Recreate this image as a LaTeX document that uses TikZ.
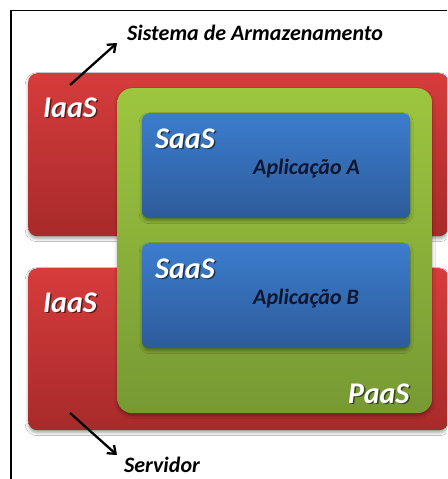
\documentclass[tikz,border=0pt]{standalone}
\usepackage{fontspec}
\setmainfont{Carlito}
\usetikzlibrary{arrows.meta,shadows.blur}

\definecolor{iaasTop}{HTML}{D63C3C}
\definecolor{iaasBot}{HTML}{A82A2A}
\definecolor{paasTop}{HTML}{9DC63F}
\definecolor{paasBot}{HTML}{779934}
\definecolor{saasTop}{HTML}{3C7DCD}
\definecolor{saasBot}{HTML}{2D5B9B}
\definecolor{appText}{HTML}{0E1630}

\tikzset{
  layerbox/.style={anchor=north west, inner sep=0pt, draw=none,
    blur shadow={shadow xshift=0pt, shadow yshift=-2.5pt,
                 shadow blur radius=3pt, shadow opacity=35}},
  iaasbox/.style={layerbox, rounded corners=9pt,
    top color=iaasTop, bottom color=iaasBot},
  paasbox/.style={layerbox, rounded corners=15pt,
    top color=paasTop, bottom color=paasBot},
  saasbox/.style={layerbox, rounded corners=7pt,
    top color=saasTop, bottom color=saasBot},
  tag/.style={anchor=base west, inner sep=0pt, text=white,
    font=\bfseries\itshape\fontsize{30}{30}\selectfont},
  tagshade/.style={tag, text=black, opacity=0.55, xshift=1.5pt, yshift=-1.5pt},
  apptext/.style={anchor=base west, inner sep=0pt, text=appText,
    font=\bfseries\itshape\fontsize{22}{22}\selectfont},
  caption/.style={anchor=base west, inner sep=0pt, text=black,
    font=\bfseries\itshape\fontsize{22}{22}\selectfont},
  pointer/.style={line width=2.3pt, -{Straight Barb[length=7pt, width=11pt]}},
}

% white label with a soft dark drop shadow
\newcommand\layertag[3]{%
  \node[tagshade] at (#2) {#3};
  \node[tag] (#1) at (#2) {#3};}

\begin{document}
\begin{tikzpicture}[x=1pt, y=-1pt]
  \clip (0,0) rectangle (447,479);
  \fill[white] (0,0) rectangle (447,479);

  % outer frame
  \draw[line width=1.5pt] (11,490) -- (11,10.5) -- (460,10.5);

  % infrastructure layers
  \node[iaasbox, minimum width=420pt, minimum height=163pt] (iaasA) at (28,73) {};
  \node[iaasbox, minimum width=420pt, minimum height=162pt] (iaasB) at (28,268) {};

  % platform layer
  \node[paasbox, minimum width=315pt, minimum height=325pt] (paas) at (117,88) {};

  % software layers
  \node[saasbox, minimum width=268pt, minimum height=105pt] (saasA) at (142,113) {};
  \node[saasbox, minimum width=268pt, minimum height=105pt] (saasB) at (142,243) {};

  % layer names
  \layertag{lblIaasA}{43,117}{IaaS}
  \layertag{lblIaasB}{43,312}{IaaS}
  \layertag{lblSaasA}{155,148}{SaaS}
  \layertag{lblSaasB}{155,278}{SaaS}
  \layertag{lblPaas}{348,403}{PaaS}

  % applications
  \node[apptext] (appA) at (253,174) {Aplicação A};
  \node[apptext] (appB) at (253,304) {Aplicação B};

  % captions with pointers
  \node[caption] (storage) at (127,40) {Sistema de Armazenamento};
  \node[caption] (server) at (124,472) {Servidor};

  \coordinate (storageFrom) at (70,85);
  \coordinate (storageTo) at (117,43);
  \coordinate (serverFrom) at (70,413);
  \coordinate (serverTo) at (117,455);
  \draw[pointer] (storageFrom) -- (storageTo);
  \draw[pointer] (serverFrom) -- (serverTo);
\end{tikzpicture}
\end{document}
